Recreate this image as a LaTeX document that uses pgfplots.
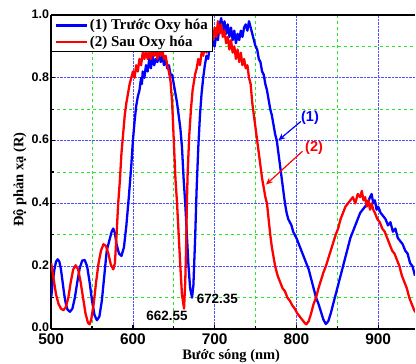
\documentclass[border=0pt]{standalone}
\usepackage{fontspec}
\setmainfont{Liberation Serif}
\newfontfamily\arialf{Liberation Sans}
\usepackage{pgfplots}
\pgfplotsset{compat=1.18}
\usetikzlibrary{arrows.meta}
\definecolor{gblue}{RGB}{0,0,255}
\definecolor{gred}{RGB}{255,0,0}
\definecolor{gridblue}{RGB}{80,80,255}
\definecolor{gridgreen}{RGB}{40,230,40}
\begin{document}
\begin{tikzpicture}
\begin{axis}[
  scale only axis,
  width=364.7pt, height=315pt,
  xmin=500, xmax=944.8, ymin=0, ymax=1,
  axis x line*=bottom, axis y line*=left,
  axis line style={line width=2.4pt, -},
  xtick={500,600,700,800,900},
  ytick={0,0.2,0.4,0.6,0.8,1.0},
  yticklabels={\raisebox{2.5pt}{0.0},0.2,0.4,0.6,0.8,1.0},
  minor tick num=1,
  tick align=inside,
  major tick length=4pt, minor tick length=3pt,
  tick style={black, line width=1.2pt},
  grid=both,
  major grid style={gridblue, densely dotted, line width=0.8pt},
  minor grid style={gridgreen, dashed, line width=0.8pt},
  /pgf/number format/assume math mode=true,
  yticklabel style={font=\arialf\bfseries\fontsize{12.5}{12.5}\selectfont, inner ysep=0pt, inner xsep=2pt, yshift=1pt},
  xticklabel style={/pgf/number format/1000 sep={}, font=\arialf\bfseries\fontsize{15.5}{15.5}\selectfont, inner ysep=0pt, yshift=-4pt},
  xlabel={Bước sóng (nm)},
  ylabel={Độ phản xạ (R)},
  label style={font=\bfseries\fontsize{14.5}{14.5}\selectfont},
  xlabel style={at={(axis description cs:0.495,-0.086)}, anchor=center, inner ysep=0pt},
  ylabel style={at={(axis description cs:-0.086,0.476)}, anchor=center},
  legend style={at={(0,1)}, anchor=north west, draw=black, line width=1pt, fill=white,
    font=\bfseries\fontsize{15}{15}\selectfont, inner xsep=3pt, inner ysep=2pt, row sep=0.5pt, legend cell align=left},
  legend image code/.code={\draw[#1, line width=2.4pt] (0pt,0pt) -- (31pt,0pt);},
  clip mode=individual,
]
\addplot[gblue, line width=2.3pt, line join=round] coordinates {
(500,0.10)(502,0.15)(504,0.19)(506,0.215)(508,0.222)(510,0.215)(512,0.19)(514,0.15)(516,0.11)(518,0.08)(520,0.062)(523,0.055)(526,0.065)(529,0.10)(532,0.15)(535,0.195)(538,0.218)(541,0.22)(544,0.2)(547,0.15)(550,0.09)(553,0.045)(556,0.028)(559,0.04)(562,0.09)(565,0.17)(568,0.25)(571,0.28)(574,0.31)(576,0.32)(578,0.305)(580,0.27)(583,0.24)(586,0.233)(589,0.26)(592,0.33)(595,0.42)(598,0.52)(600,0.60)(602,0.66)(604,0.71)(606,0.74)(608,0.76)(610,0.80)(611,0.78)(612,0.82)(614,0.80)(616,0.84)(618,0.82)(620,0.86)(622,0.83)(624,0.87)(626,0.84)(628,0.86)(630,0.85)(632,0.88)(634,0.85)(636,0.87)(638,0.84)(640,0.86)(642,0.83)(644,0.84)(646,0.81)(648,0.81)(650,0.78)(652,0.75)(654,0.72)(656,0.68)(658,0.64)(660,0.58)(662,0.48)(664,0.40)(666,0.30)(668,0.20)(670,0.13)(672.35,0.10)(674,0.14)(676,0.28)(678,0.45)(680,0.58)(682,0.68)(684,0.75)(686,0.80)(688,0.84)(690,0.87)(692,0.86)(694,0.90)(696,0.89)(698,0.92)(700,0.90)(702,0.94)(704,0.92)(706,0.97)(708,0.99)(710,0.95)(712,0.98)(714,0.94)(716,0.97)(718,0.93)(720,0.96)(722,0.92)(724,0.95)(726,0.91)(728,0.94)(730,0.92)(732,0.95)(734,0.93)(736,0.96)(738,0.97)(740,0.95)(742,0.98)(744,0.96)(746,0.94)(748,0.92)(750,0.90)(752,0.89)(754,0.86)(756,0.85)(758,0.82)(760,0.81)(762,0.78)(764,0.76)(766,0.73)(768,0.70)(770,0.68)(772,0.65)(774,0.62)(776,0.60)(778,0.56)(780,0.52)(782,0.48)(784,0.44)(786,0.40)(788,0.37)(790,0.35)(792,0.34)(794,0.33)(796,0.31)(798,0.30)(800,0.29)(803,0.27)(806,0.25)(809,0.23)(812,0.21)(815,0.19)(818,0.16)(821,0.13)(824,0.10)(827,0.08)(830,0.055)(833,0.03)(836,0.016)(839,0.025)(842,0.05)(845,0.08)(848,0.11)(851,0.14)(854,0.17)(857,0.20)(860,0.23)(863,0.26)(866,0.29)(869,0.31)(872,0.33)(875,0.35)(878,0.37)(881,0.38)(884,0.39)(887,0.40)(890,0.42)(892,0.43)(894,0.40)(896,0.41)(898,0.38)(900,0.39)(903,0.37)(906,0.36)(909,0.35)(912,0.33)(915,0.34)(918,0.31)(921,0.32)(924,0.29)(927,0.28)(930,0.27)(933,0.25)(936,0.24)(939,0.21)(942,0.20)(945,0.17)
};
\addlegendentry{(1) Trước Oxy hóa}
\addplot[gred, line width=2.3pt, line join=round] coordinates {
(500,0.21)(503,0.16)(506,0.11)(509,0.08)(512,0.065)(515,0.06)(518,0.07)(521,0.10)(524,0.15)(527,0.19)(530,0.203)(533,0.19)(536,0.15)(539,0.10)(542,0.05)(545,0.02)(547,0.015)(549,0.03)(552,0.08)(555,0.15)(558,0.21)(561,0.25)(564,0.27)(567,0.265)(570,0.24)(573,0.205)(576,0.19)(578,0.21)(580,0.30)(582,0.40)(584,0.47)(586,0.56)(588,0.62)(590,0.68)(592,0.72)(594,0.75)(596,0.78)(598,0.80)(600,0.82)(602,0.80)(604,0.84)(606,0.82)(608,0.86)(610,0.84)(612,0.88)(614,0.86)(616,0.89)(618,0.86)(620,0.88)(622,0.86)(624,0.90)(626,0.87)(628,0.89)(630,0.86)(632,0.90)(634,0.87)(636,0.89)(638,0.86)(640,0.87)(642,0.84)(644,0.82)(646,0.79)(648,0.72)(650,0.60)(652,0.48)(654,0.40)(656,0.30)(658,0.20)(660,0.11)(662.55,0.065)(664,0.15)(665,0.25)(666,0.40)(667,0.50)(669,0.62)(671,0.70)(673,0.76)(676,0.81)(678,0.83)(680,0.86)(682,0.84)(684,0.88)(686,0.87)(688,0.90)(690,0.88)(692,0.92)(694,0.90)(696,0.94)(698,0.92)(700,0.96)(702,0.93)(704,0.98)(706,0.94)(708,0.97)(710,0.93)(712,0.95)(714,0.91)(716,0.93)(718,0.89)(720,0.92)(722,0.88)(724,0.90)(726,0.86)(728,0.89)(730,0.85)(732,0.88)(734,0.84)(736,0.86)(738,0.83)(740,0.84)(742,0.80)(744,0.78)(746,0.72)(748,0.68)(750,0.64)(752,0.60)(754,0.56)(756,0.52)(758,0.48)(760,0.45)(762,0.42)(764,0.40)(766,0.35)(768,0.30)(770,0.26)(772,0.23)(774,0.20)(777,0.17)(780,0.15)(783,0.13)(786,0.12)(789,0.10)(792,0.09)(795,0.075)(798,0.065)(801,0.05)(804,0.04)(807,0.03)(810,0.02)(812,0.015)(815,0.025)(818,0.05)(821,0.08)(824,0.10)(827,0.13)(830,0.155)(833,0.18)(836,0.20)(839,0.225)(842,0.25)(845,0.275)(848,0.30)(851,0.32)(854,0.35)(857,0.37)(860,0.39)(863,0.40)(866,0.41)(869,0.42)(872,0.40)(875,0.43)(878,0.42)(880,0.44)(882,0.41)(884,0.42)(886,0.39)(888,0.41)(890,0.38)(892,0.40)(894,0.38)(896,0.37)(899,0.35)(902,0.34)(905,0.32)(908,0.31)(911,0.29)(914,0.27)(917,0.25)(920,0.24)(923,0.22)(926,0.20)(929,0.17)(932,0.15)(935,0.13)(938,0.10)(941,0.08)(944,0.06)(947,0.05)
};
\addlegendentry{(2) Sau Oxy hóa}
\draw[black, line width=2.4pt] (rel axis cs:0,1) -- (rel axis cs:1,1);
\node[font=\arialf\bfseries\fontsize{13.5}{13.5}\selectfont] at (axis cs:641.7,0.041) {662.55};
\node[font=\arialf\bfseries\fontsize{13.5}{13.5}\selectfont] at (axis cs:703.3,0.097) {672.35};
\node[gblue, font=\arialf\bfseries\fontsize{14.5}{14.5}\selectfont] at (axis cs:816.6,0.673) {(1)};
\node[gred, font=\arialf\bfseries\fontsize{14.5}{14.5}\selectfont] at (axis cs:821.6,0.578) {(2)};
\draw[gblue, line width=1.2pt, -{Stealth[length=7pt,width=6pt]}] (axis cs:805.4,0.661) -- (axis cs:778,0.601);
\draw[gred, line width=1.2pt, -{Stealth[length=7pt,width=6pt]}] (axis cs:807.4,0.566) -- (axis cs:762.7,0.46);
\end{axis}
\path (current axis.south west) ++(-51.3pt,-35pt) coordinate (bbA);
\path (current axis.north east) ++(0pt,15pt) coordinate (bbB);
\path (bbA) rectangle (bbB);
\end{tikzpicture}
\end{document}
